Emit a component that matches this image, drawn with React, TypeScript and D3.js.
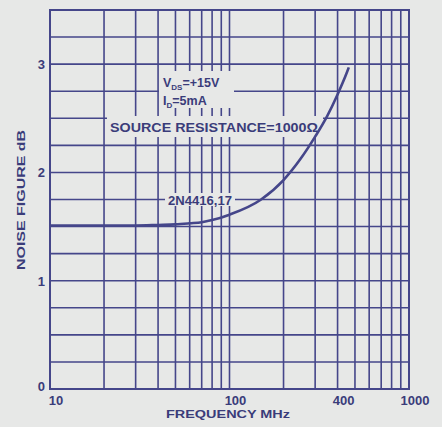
import React from "react";
import * as d3 from "d3";

const freqs = [10, 20, 30, 40, 50, 60, 70, 80, 100, 150, 200, 250, 300, 350, 400, 450, 462];
const noiseFigure = [1.51, 1.51, 1.51, 1.515, 1.52, 1.53, 1.54, 1.56, 1.61, 1.75, 1.93, 2.13, 2.33, 2.52, 2.72, 2.92, 2.97];
const xTickLabels = [10, 100, 400, 1000];
const yTickLabels = [0, 1, 2, 3];
const xGrid = [10, 20, 30, 40, 50, 60, 70, 80, 90, 100, 200, 300, 400, 500, 600, 700, 800, 900, 1000];
const yGrid = d3.range(0, 3.5001, 0.25);

const W = 442, H = 427;
const L = 50, R = 409, T = 10, B = 389;
const BG = "#e7e8e7";
const INK = "#45468a";
const TXT = "#3a3c7a";
const FONT = "'Liberation Sans', Arial, sans-serif";

export default function App() {
  const x = d3.scaleLog().domain([10, 1000]).range([L, R]);
  const y = d3.scaleLinear().domain([0, 3.5]).range([B, T]);
  const line = d3
    .line<number>()
    .x((_, i) => x(freqs[i]))
    .y((d) => y(d))
    .curve(d3.curveMonotoneX);
  const path = line(noiseFigure) || "";

  return (
    <svg width={W} height={H} style={{ position: "absolute", left: 0, top: 0, background: BG }}>
      <rect x={0} y={0} width={W} height={H} fill={BG} />
      {xGrid.map((v) => (
        <line key={"vx" + v} x1={x(v)} x2={x(v)} y1={T} y2={B} stroke={INK} strokeWidth={1.6} />
      ))}
      {yGrid.map((v) => (
        <line key={"hy" + v} x1={L} x2={R} y1={y(v)} y2={y(v)} stroke={INK} strokeWidth={1.6} />
      ))}
      <rect x={L} y={T} width={R - L} height={B - T} fill="none" stroke={INK} strokeWidth={2} />
      {/* masks behind labels */}
      <rect x={159} y={71} width={75} height={37} fill={BG} />
      <rect x={107} y={116} width={216} height={21} fill={BG} />
      <rect x={165} y={193} width={70} height={13} fill={BG} />
      <path d={path} fill="none" stroke={INK} strokeWidth={2.6} />
      <g fill={TXT} fontFamily={FONT} fontWeight="bold">
        <text x={163} y={87} fontSize={12.5}>
          V<tspan fontSize={8} dy={3}>DS</tspan>
          <tspan dy={-3}>=+15V</tspan>
        </text>
        <text x={163} y={105} fontSize={12.5}>
          I<tspan fontSize={8} dy={3}>D</tspan>
          <tspan dy={-3}>=5mA</tspan>
        </text>
        <text x={110} y={132} fontSize={12.5} textLength={208} lengthAdjust="spacingAndGlyphs">
          SOURCE RESISTANCE=1000Ω
        </text>
        <text x={168} y={205} fontSize={12.5} textLength={64} lengthAdjust="spacingAndGlyphs">
          2N4416,17
        </text>
        {yTickLabels.map((v) => (
          <text key={"yl" + v} x={45} y={y(v) + (v === 0 ? 2 : 5)} fontSize={13} textAnchor="end">
            {v}
          </text>
        ))}
        {xTickLabels.map((v) => (
          <text key={"xl" + v} x={x(v) + 6} y={405} fontSize={13} textAnchor="middle">
            {v}
          </text>
        ))}
        <text x={228} y={418} fontSize={11.5} textAnchor="middle" textLength={124} lengthAdjust="spacingAndGlyphs">
          FREQUENCY MHz
        </text>
        <text
          transform={`translate(25,200) rotate(-90)`}
          fontSize={11.5}
          textAnchor="middle"
          textLength={140}
          lengthAdjust="spacingAndGlyphs"
        >
          NOISE FIGURE dB
        </text>
      </g>
    </svg>
  );
}
